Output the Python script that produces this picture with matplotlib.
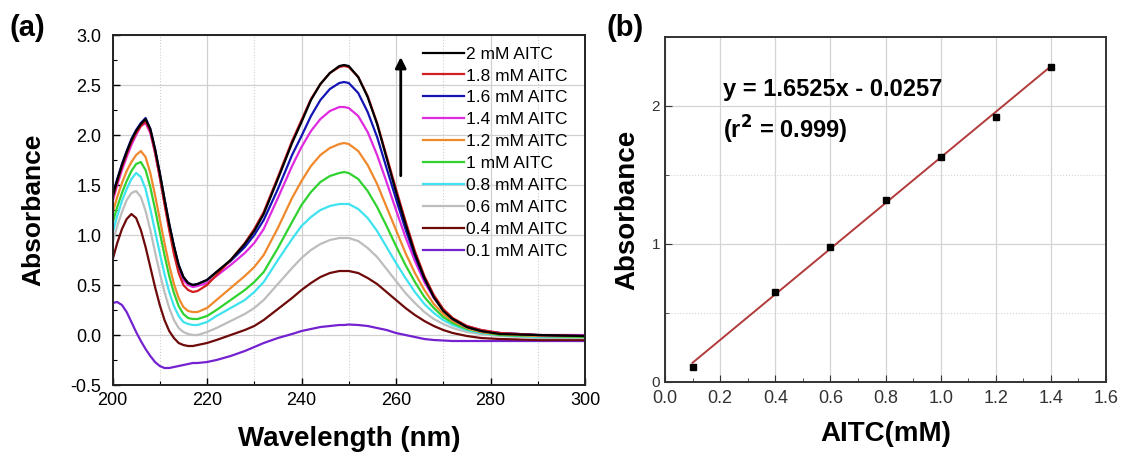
import matplotlib
matplotlib.use("Agg")
import matplotlib.pyplot as plt
import numpy as np
from matplotlib.ticker import MultipleLocator

plt.rcParams['font.family'] = ['Liberation Sans', 'DejaVu Sans']

# ---------------- data: panel (a) UV spectra ----------------
wavelength = [200, 201, 202, 203, 204, 205, 206, 207, 208, 209, 210, 211, 212, 213, 214, 215,
              216, 217, 218, 220, 222, 225, 228, 230, 232, 235, 238, 240, 242, 244, 246, 248,
              249, 250, 252, 254, 256, 258, 260, 262, 264, 266, 268, 270, 272, 275, 278, 282,
              290, 300]

abs_2_0 = [1.38, 1.55, 1.70, 1.83, 1.95, 2.04, 2.11, 2.16, 2.06, 1.86, 1.62, 1.36, 1.11, 0.89, 0.70, 0.58,
           0.52, 0.50, 0.51, 0.55, 0.63, 0.75, 0.91, 1.04, 1.21, 1.56, 1.92, 2.13, 2.35, 2.51, 2.62, 2.69,
           2.70, 2.69, 2.58, 2.38, 2.11, 1.77, 1.43, 1.11, 0.81, 0.57, 0.38, 0.24, 0.16, 0.08, 0.04, 0.01,
           0.00, -0.01]
abs_1_8 = [1.36, 1.53, 1.68, 1.81, 1.93, 2.02, 2.09, 2.14, 2.04, 1.83, 1.58, 1.31, 1.05, 0.81, 0.62, 0.50,
           0.45, 0.43, 0.44, 0.50, 0.60, 0.75, 0.92, 1.06, 1.23, 1.58, 1.94, 2.15, 2.36, 2.51, 2.62, 2.68,
           2.69, 2.68, 2.58, 2.39, 2.12, 1.79, 1.46, 1.14, 0.84, 0.59, 0.40, 0.26, 0.17, 0.09, 0.05, 0.02,
           0.00, -0.01]
abs_1_6 = [1.40, 1.56, 1.71, 1.84, 1.96, 2.05, 2.12, 2.17, 2.06, 1.86, 1.62, 1.36, 1.11, 0.89, 0.70, 0.58,
           0.52, 0.50, 0.51, 0.55, 0.63, 0.74, 0.88, 1.00, 1.15, 1.46, 1.80, 1.99, 2.19, 2.35, 2.46, 2.52,
           2.53, 2.52, 2.42, 2.23, 1.98, 1.67, 1.36, 1.06, 0.79, 0.56, 0.38, 0.25, 0.16, 0.08, 0.04, 0.02,
           0.00, -0.01]
abs_1_4 = [1.33, 1.50, 1.65, 1.78, 1.90, 2.00, 2.09, 2.12, 2.02, 1.82, 1.58, 1.32, 1.07, 0.85, 0.67, 0.55,
           0.50, 0.48, 0.49, 0.52, 0.59, 0.70, 0.82, 0.92, 1.06, 1.37, 1.69, 1.88, 2.04, 2.16, 2.24, 2.28,
           2.28, 2.27, 2.19, 2.03, 1.80, 1.53, 1.25, 0.98, 0.74, 0.53, 0.37, 0.25, 0.16, 0.09, 0.05, 0.02,
           0.00, 0.00]
abs_1_2 = [1.22, 1.38, 1.52, 1.64, 1.73, 1.80, 1.84, 1.78, 1.62, 1.40, 1.16, 0.92, 0.70, 0.51, 0.37, 0.28,
           0.24, 0.23, 0.23, 0.27, 0.35, 0.47, 0.59, 0.68, 0.80, 1.07, 1.37, 1.54, 1.69, 1.80, 1.87, 1.91,
           1.92, 1.91, 1.84, 1.70, 1.51, 1.28, 1.05, 0.82, 0.62, 0.45, 0.31, 0.21, 0.14, 0.07, 0.03, 0.01,
           -0.01, -0.01]
abs_1_0 = [1.12, 1.28, 1.42, 1.54, 1.64, 1.71, 1.73, 1.65, 1.48, 1.26, 1.03, 0.80, 0.59, 0.42, 0.29, 0.21,
           0.17, 0.16, 0.16, 0.19, 0.25, 0.35, 0.45, 0.53, 0.63, 0.87, 1.13, 1.30, 1.43, 1.53, 1.59, 1.62,
           1.63, 1.62, 1.56, 1.44, 1.28, 1.09, 0.89, 0.70, 0.53, 0.38, 0.27, 0.18, 0.12, 0.06, 0.03, 0.00,
           -0.01, -0.02]
abs_0_8 = [1.02, 1.19, 1.34, 1.46, 1.56, 1.62, 1.58, 1.46, 1.26, 1.04, 0.82, 0.61, 0.43, 0.29, 0.19, 0.13,
           0.11, 0.10, 0.10, 0.13, 0.19, 0.27, 0.35, 0.43, 0.53, 0.75, 0.96, 1.09, 1.18, 1.25, 1.29, 1.31,
           1.31, 1.31, 1.26, 1.17, 1.04, 0.88, 0.72, 0.57, 0.43, 0.31, 0.22, 0.15, 0.10, 0.05, 0.02, 0.00,
           -0.02, -0.02]
abs_0_6 = [0.92, 1.09, 1.23, 1.35, 1.42, 1.44, 1.38, 1.24, 1.05, 0.83, 0.62, 0.43, 0.27, 0.15, 0.07, 0.03,
           0.01, 0.00, 0.00, 0.03, 0.07, 0.14, 0.21, 0.27, 0.35, 0.51, 0.67, 0.77, 0.85, 0.91, 0.95, 0.97,
           0.97, 0.97, 0.94, 0.87, 0.78, 0.66, 0.54, 0.42, 0.32, 0.23, 0.16, 0.11, 0.07, 0.03, 0.01, -0.01,
           -0.03, -0.03]
abs_0_4 = [0.75, 0.92, 1.06, 1.16, 1.21, 1.17, 1.05, 0.88, 0.68, 0.48, 0.30, 0.15, 0.04, -0.03, -0.08, -0.10,
           -0.11, -0.11, -0.10, -0.08, -0.05, 0.00, 0.05, 0.09, 0.15, 0.26, 0.37, 0.45, 0.52, 0.58, 0.62, 0.64,
           0.64, 0.64, 0.62, 0.57, 0.51, 0.43, 0.35, 0.27, 0.20, 0.14, 0.09, 0.05, 0.02, -0.01, -0.03, -0.04,
           -0.05, -0.05]
abs_0_1 = [0.32, 0.33, 0.30, 0.23, 0.13, 0.03, -0.06, -0.14, -0.21, -0.27, -0.31, -0.33, -0.33, -0.32, -0.31, -0.30,
           -0.29, -0.28, -0.28, -0.27, -0.25, -0.21, -0.16, -0.12, -0.08, -0.03, 0.01, 0.04, 0.06, 0.08, 0.09, 0.10,
           0.10, 0.105, 0.10, 0.09, 0.07, 0.05, 0.02, 0.00, -0.02, -0.04, -0.05, -0.055, -0.06, -0.06, -0.06, -0.06,
           -0.06, -0.06]

series_labels = ['2 mM AITC', '1.8 mM AITC', '1.6 mM AITC', '1.4 mM AITC', '1.2 mM AITC',
                 '1 mM AITC', '0.8 mM AITC', '0.6 mM AITC', '0.4 mM AITC', '0.1 mM AITC']
series_colors = ['#000000', '#d21f1f', '#1414b4', '#e02ae0', '#f0892c',
                 '#2fd22f', '#3ee3ef', '#bdbdbd', '#6e0a0a', '#7422d0']
series_values = [abs_2_0, abs_1_8, abs_1_6, abs_1_4, abs_1_2,
                 abs_1_0, abs_0_8, abs_0_6, abs_0_4, abs_0_1]

# ---------------- data: panel (b) calibration ----------------
conc_mM = [0.1, 0.4, 0.6, 0.8, 1.0, 1.2, 1.4]
absorbance_peak = [0.11, 0.65, 0.98, 1.32, 1.63, 1.92, 2.28]
fit_slope = 1.6525
fit_intercept = -0.0257

# ---------------- figure ----------------
fig = plt.figure(figsize=(11.48, 4.59), dpi=100)

# ----- panel (a) -----
axa = fig.add_axes([0.098, 0.1612, 0.4116, 0.7625])
for lab, col, vals in list(zip(series_labels, series_colors, series_values))[::-1]:
    axa.plot(wavelength, vals, color=col, lw=1.6, label=lab)
axa.set_xlim(200, 300)
axa.set_ylim(-0.5, 3.0)
axa.xaxis.set_major_locator(MultipleLocator(20))
axa.xaxis.set_minor_locator(MultipleLocator(10))
axa.yaxis.set_minor_locator(MultipleLocator(0.25))
axa.set_yticks(np.arange(-0.5, 3.01, 0.5))
axa.set_yticklabels([f"{v:.1f}" for v in np.arange(-0.5, 3.01, 0.5)])
axa.grid(which='major', color='#d0d0d0', lw=0.9, ls='-')
axa.grid(which='minor', axis='x', color='#d0d0d0', lw=0.8, ls=':')
axa.set_axisbelow(True)
axa.tick_params(which='both', direction='in', labelsize=13, colors='black')
axa.tick_params(axis='y', which='major', pad=8)
axa.tick_params(axis='x', which='major', pad=5)
axa.tick_params(which='major', length=5, width=1.0)
axa.tick_params(which='minor', length=3, width=0.8)
for s in axa.spines.values():
    s.set_linewidth(1.4)
    s.set_color('#222222')
axa.set_xlabel('Wavelength (nm)', fontsize=20, fontweight='bold', labelpad=12)
axa.set_ylabel('Absorbance', fontsize=19, fontweight='bold', labelpad=18)

handles, labels = axa.get_legend_handles_labels()
leg = axa.legend(handles[::-1], labels[::-1], loc='upper left', bbox_to_anchor=(0.635, 0.997),
                 frameon=False, fontsize=12.5, handlelength=2.35, handletextpad=0.15,
                 labelspacing=0.39, borderaxespad=0.2)
axa.annotate('', xy=(0.61, 0.945), xytext=(0.61, 0.59), xycoords='axes fraction',
             arrowprops=dict(arrowstyle='-|>', color='black', lw=2.0, mutation_scale=16))

fig.text(0.008, 0.94, '(a)', fontsize=21, fontweight='bold', va='center', ha='left')

# ----- panel (b) -----
axb = fig.add_axes([0.5793, 0.1678, 0.3841, 0.7516])
xfit = np.array([conc_mM[0], conc_mM[-1]])
axb.plot(xfit, fit_slope * xfit + fit_intercept, color='#b23a3a', lw=1.4, zorder=2)
axb.plot(conc_mM, absorbance_peak, ls='none', marker='s', ms=5, color='black', zorder=3)
axb.set_xlim(0.0, 1.6)
axb.set_ylim(0, 2.5)
axb.xaxis.set_minor_locator(MultipleLocator(0.1))
axb.yaxis.set_major_locator(MultipleLocator(1))
axb.yaxis.set_minor_locator(MultipleLocator(0.5))
axb.set_xticks(np.arange(0, 1.61, 0.2))
axb.set_xticklabels([f"{v:.1f}" for v in np.arange(0, 1.61, 0.2)])
axb.grid(which='major', color='#d4d4d4', lw=0.9, ls='-')
axb.grid(which='minor', axis='y', color='#d4d4d4', lw=0.8, ls=':')
axb.set_axisbelow(True)
axb.tick_params(axis='x', which='both', direction='in', labelsize=13, colors='#333333')
axb.tick_params(axis='x', which='major', pad=6)
axb.tick_params(axis='y', which='both', direction='in', labelsize=11, colors='#333333')
axb.tick_params(which='major', length=5)
axb.tick_params(which='minor', length=3)
for s in axb.spines.values():
    s.set_linewidth(1.4)
    s.set_color('#333333')
axb.set_xlabel('AITC(mM)', fontsize=20, fontweight='bold', labelpad=10)
axb.set_ylabel('Absorbance', fontsize=20, fontweight='bold', labelpad=8)
axb.text(0.21, 2.12, 'y = 1.6525x - 0.0257', fontsize=17, fontweight='bold', va='center', ha='left')
axb.text(0.21, 1.83, r'(r$^{\mathbf{2}}$ = 0.999)', fontsize=17, fontweight='bold', va='center', ha='left')

fig.text(0.528, 0.94, '(b)', fontsize=21, fontweight='bold', va='center', ha='left')

fig.savefig('out.png', dpi=100)
